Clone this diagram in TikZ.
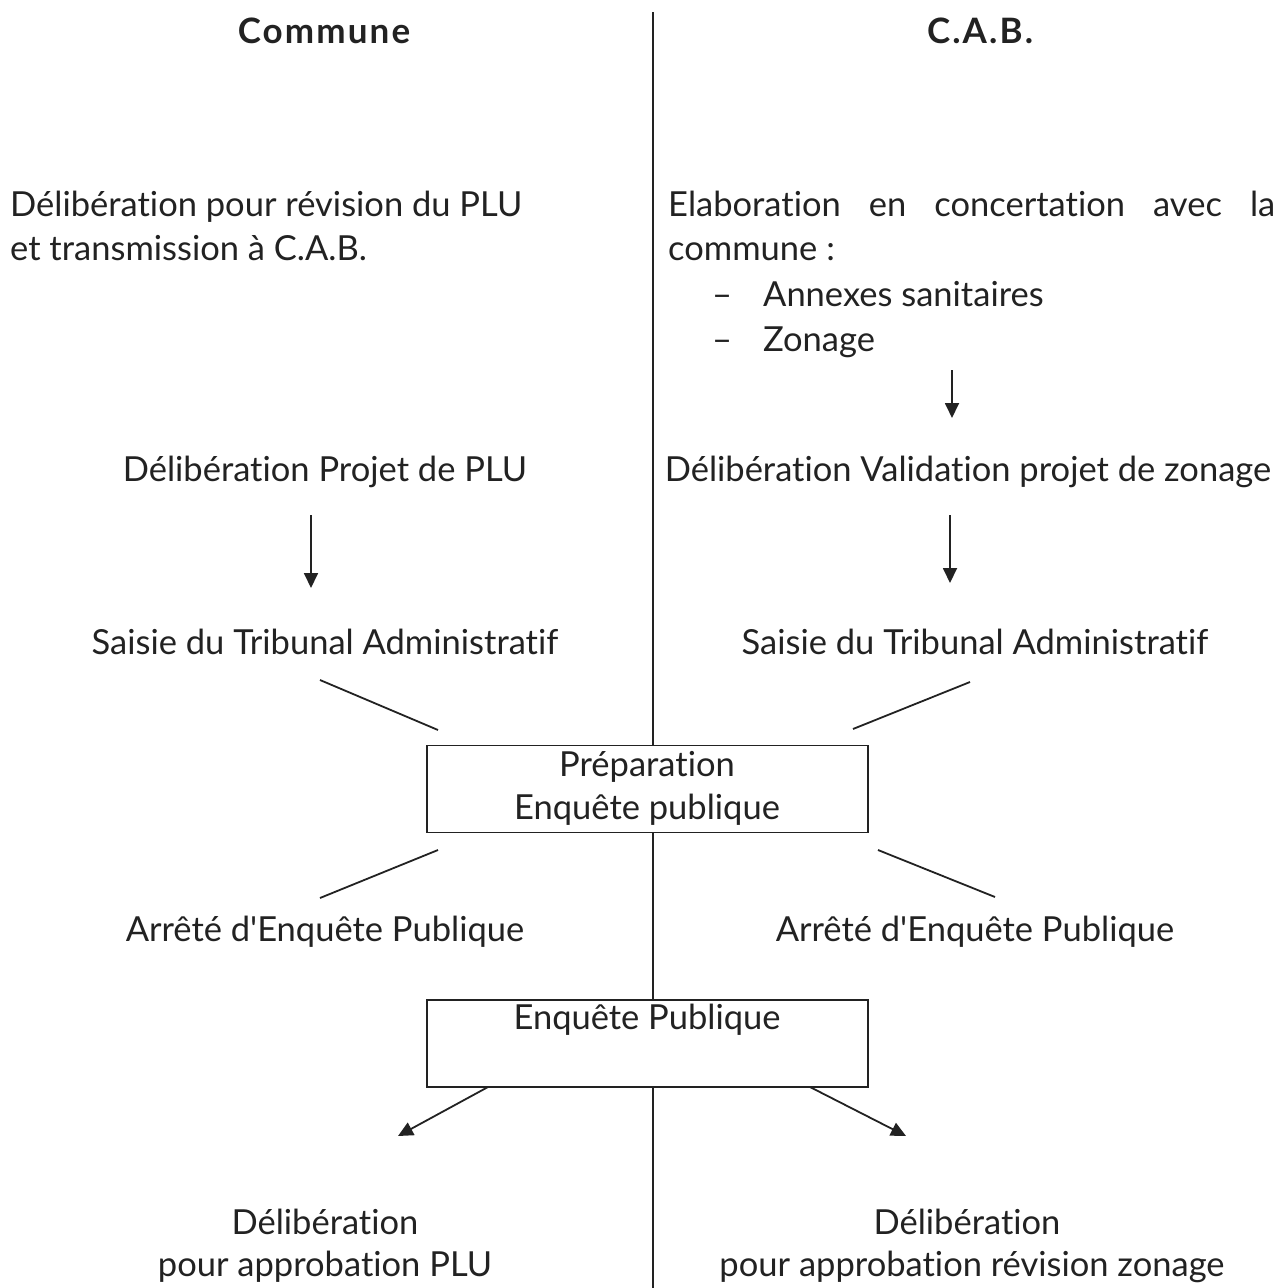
\documentclass[tikz,border=0pt]{standalone}
\usepackage{fontspec}
\setmainfont[Ligatures={NoCommon,TeXOff}]{Lato}
\usetikzlibrary{arrows.meta}
\definecolor{ink}{HTML}{222222}
\begin{document}
\begin{tikzpicture}[x=1pt,y=-1pt,
  txt/.style={inner sep=0pt,text=ink,font=\fontsize{34.5}{44}\selectfont,text height=30pt,text depth=7pt},
  head/.style={txt,font=\fontsize{35}{44}\selectfont\bfseries\addfontfeatures{LetterSpace=6}},
  ln/.style={draw=ink,line width=1.8pt},
  arr/.style={ln,-{Triangle[length=15pt,width=14pt]}},
  stagebox/.style={draw=ink,line width=1.6pt,fill=white,minimum width=441pt,inner sep=0pt}]
  \useasboundingbox (0,0) rectangle (1281,1288);
  % column separator
  \coordinate (top) at (653,12);
  \coordinate (bot) at (653,1288);
  \draw[ln,line width=1.5pt] (top) -- (bot);
  % headers
  \node[head] (hL) at (324,32) {Commune};
  \node[head] (hR) at (980,32) {C.A.B.};
  % first step, commune side
  \node[txt,anchor=west] (d1) at (10,205) {Délibération pour révision du PLU};
  \node[txt,anchor=west] (d2) at (10,249) {et transmission à C.A.B.};
  % first step, C.A.B. side
  \node[txt,anchor=west] (e1) at (668,205) {\hbox to 607pt{Elaboration\hfill en\hfill concertation\hfill avec\hfill la}};
  \node[txt,anchor=west] (e2) at (668,249) {commune :};
  \node[txt] (dash1) at (722,295) {–};
  \node[txt,anchor=west] (e3) at (763,295) {Annexes sanitaires};
  \node[txt] (dash2) at (722,340) {–};
  \node[txt,anchor=west] (e4) at (763,340) {Zonage};
  \coordinate (a0s) at (952,370);
  \coordinate (a0e) at (952,418);
  \draw[arr] (a0s) -- (a0e);
  % project deliberations
  \node[txt] (pL) at (325,470) {Délibération Projet de PLU};
  \node[txt] (pR) at (968,470) {Délibération Validation projet de zonage};
  \coordinate (a1s) at (311,515);
  \coordinate (a1e) at (311,588);
  \draw[arr] (a1s) -- (a1e);
  \coordinate (a2s) at (950,515);
  \coordinate (a2e) at (950,583);
  \draw[arr] (a2s) -- (a2e);
  % tribunal
  \node[txt] (sL) at (325,643) {Saisie du Tribunal Administratif};
  \node[txt] (sR) at (975,643) {Saisie du Tribunal Administratif};
  % preparation box
  \node[stagebox,minimum height=87pt] (prep) at (647.5,789) {};
  \node[txt] (prep1) at (647,765) {Préparation};
  \node[txt] (prep2) at (647,808) {Enquête publique};
  \coordinate (l1s) at (320,680);
  \coordinate (l1e) at (438,730);
  \coordinate (r1s) at (970,682);
  \coordinate (r1e) at (853,729);
  \draw[ln] (l1s) -- (l1e);
  \draw[ln] (r1s) -- (r1e);
  \coordinate (l2s) at (438,850);
  \coordinate (l2e) at (320,898);
  \coordinate (r2s) at (878,850);
  \coordinate (r2e) at (995,897);
  \draw[ln] (l2s) -- (l2e);
  \draw[ln] (r2s) -- (r2e);
  % arrete
  \node[txt] (arL) at (325,930) {Arrêté d'Enquête Publique};
  \node[txt] (arR) at (975,930) {Arrêté d'Enquête Publique};
  % public inquiry box
  \node[stagebox,minimum height=87pt] (enq) at (647.5,1043.5) {};
  \node[txt] (enqT) at (647,1018) {Enquête Publique};
  \coordinate (b1s) at (488,1087);
  \coordinate (b1e) at (398,1136);
  \coordinate (b2s) at (810,1087);
  \coordinate (b2e) at (906,1136);
  \draw[arr] (b1s) -- (b1e);
  \draw[arr] (b2s) -- (b2e);
  % approvals
  \node[txt] (fL1) at (325,1223) {Délibération};
  \node[txt] (fL2) at (325,1265) {pour approbation PLU};
  \node[txt] (fR1) at (967,1223) {Délibération};
  \node[txt] (fR2) at (972,1265) {pour approbation révision zonage};
\end{tikzpicture}
\end{document}
